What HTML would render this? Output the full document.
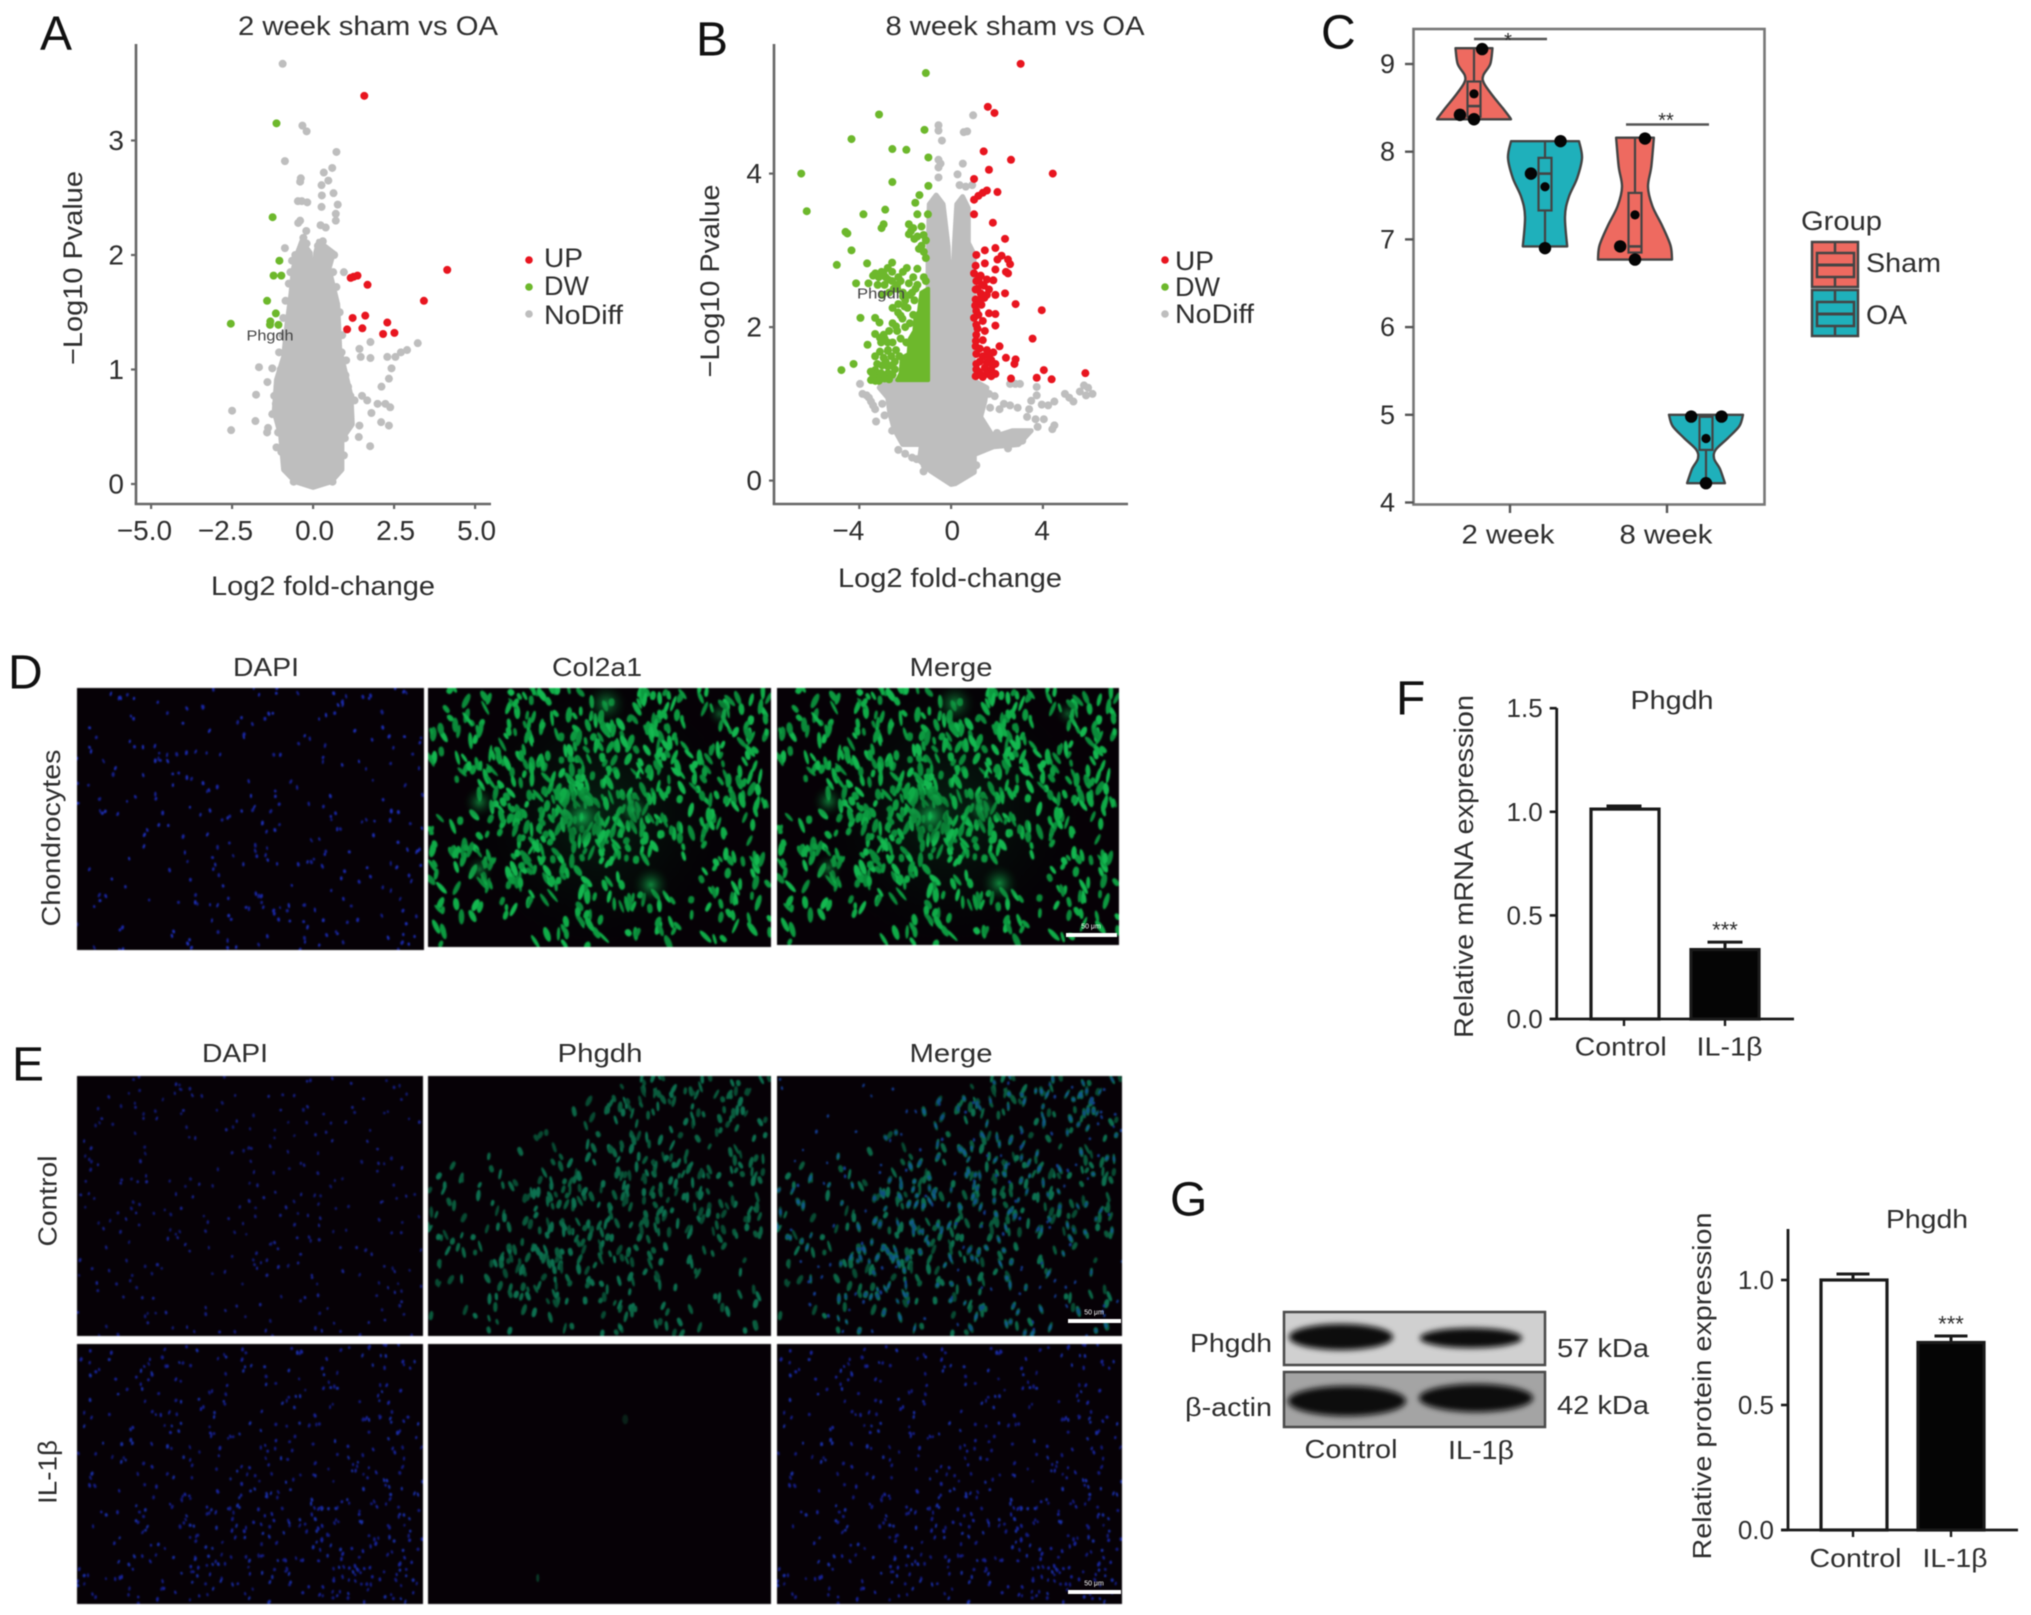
<!DOCTYPE html>
<html>
<head>
<meta charset="utf-8">
<title>Phgdh figure</title>
<style>
html,body{margin:0;padding:0;background:#fff;}
#stage{position:relative;width:2031px;height:1615px;overflow:hidden;background:#fff;}
canvas{position:absolute;filter:blur(0.9px);}
#figure{position:absolute;left:0;top:0;filter:blur(0.45px);}
text{font-family:"Liberation Sans",sans-serif;fill:#2e2e2e;dominant-baseline:central;}
.pl{font-size:48px;fill:#111;}
</style>
</head>
<body>
<div id="stage">
<canvas id="c-d1" width="347" height="262" style="left:77px;top:688px"></canvas>
<canvas id="c-d2" width="343" height="259" style="left:428px;top:688px"></canvas>
<canvas id="c-d3" width="342" height="257" style="left:777px;top:688px"></canvas>
<canvas id="c-e1" width="346" height="260" style="left:77px;top:1076px"></canvas>
<canvas id="c-e2" width="343" height="260" style="left:428px;top:1076px"></canvas>
<canvas id="c-e3" width="345" height="260" style="left:777px;top:1076px"></canvas>
<canvas id="c-e4" width="346" height="260" style="left:77px;top:1344px"></canvas>
<canvas id="c-e5" width="343" height="260" style="left:428px;top:1344px"></canvas>
<canvas id="c-e6" width="345" height="260" style="left:777px;top:1344px"></canvas>

<svg id="figure" xmlns="http://www.w3.org/2000/svg" width="2031" height="1615" viewBox="0 0 2031 1615">
<defs>
<filter id="soft3" x="-20%" y="-40%" width="140%" height="180%"><feGaussianBlur stdDeviation="3"/></filter>
<filter id="soft6" x="-20%" y="-50%" width="140%" height="200%"><feGaussianBlur stdDeviation="6"/></filter>
</defs>

<!-- panel letters -->
<text class="pl" x="40" y="34">A</text>
<text class="pl" x="696" y="40">B</text>
<text class="pl" x="1321" y="33">C</text>
<text class="pl" x="8" y="673">D</text>
<text class="pl" x="12" y="1065">E</text>
<text class="pl" x="1396" y="699">F</text>
<text class="pl" x="1170" y="1200">G</text>

<!-- panel A static -->
<g id="panel-a"></g>
<text x="368" y="26" font-size="27" text-anchor="middle" textLength="260" lengthAdjust="spacingAndGlyphs">2 week sham vs OA</text>
<text x="323" y="586" font-size="27" text-anchor="middle" textLength="224" lengthAdjust="spacingAndGlyphs">Log2 fold-change</text>
<text transform="translate(73,268) rotate(-90)" font-size="27" text-anchor="middle" textLength="194" lengthAdjust="spacingAndGlyphs">−Log10 Pvalue</text>
<text x="270" y="336" font-size="15" text-anchor="middle" textLength="47" lengthAdjust="spacingAndGlyphs" style="fill:#444">Phgdh</text>
<circle cx="529" cy="260" r="3.8" fill="#e8151f"/>
<circle cx="529" cy="287" r="3.8" fill="#6db82c"/>
<circle cx="529" cy="314" r="3.8" fill="#bebebe"/>
<text x="544" y="258" font-size="27" textLength="39" lengthAdjust="spacingAndGlyphs">UP</text>
<text x="544" y="286" font-size="27" textLength="45" lengthAdjust="spacingAndGlyphs">DW</text>
<text x="544" y="315" font-size="27" textLength="79" lengthAdjust="spacingAndGlyphs">NoDiff</text>

<!-- panel B static -->
<g id="panel-b"></g>
<text x="1015" y="26" font-size="27" text-anchor="middle" textLength="259" lengthAdjust="spacingAndGlyphs">8 week sham vs OA</text>
<text x="950" y="578" font-size="27" text-anchor="middle" textLength="224" lengthAdjust="spacingAndGlyphs">Log2 fold-change</text>
<text transform="translate(710,281) rotate(-90)" font-size="27" text-anchor="middle" textLength="193" lengthAdjust="spacingAndGlyphs">−Log10 Pvalue</text>
<text x="881" y="294" font-size="15" text-anchor="middle" textLength="48" lengthAdjust="spacingAndGlyphs" style="fill:#444">Phgdh</text>
<circle cx="1165" cy="260" r="3.8" fill="#e8151f"/>
<circle cx="1165" cy="287" r="3.8" fill="#6db82c"/>
<circle cx="1165" cy="314" r="3.8" fill="#bebebe"/>
<text x="1175" y="261" font-size="27" textLength="39" lengthAdjust="spacingAndGlyphs">UP</text>
<text x="1175" y="287" font-size="27" textLength="45" lengthAdjust="spacingAndGlyphs">DW</text>
<text x="1175" y="314" font-size="27" textLength="79" lengthAdjust="spacingAndGlyphs">NoDiff</text>

<!-- panel C -->
<g id="panel-c"></g>
<text x="1801" y="221" font-size="27" textLength="81" lengthAdjust="spacingAndGlyphs">Group</text>
<g transform="translate(-3,-1)">
<rect x="1815" y="243" width="46" height="45" fill="#ee6a60" stroke="#444" stroke-width="2.5"/>
<line x1="1838" y1="243" x2="1838" y2="288" stroke="#444" stroke-width="2.5"/>
<rect x="1820" y="254" width="37" height="24" fill="#ee6a60" stroke="#444" stroke-width="2.5"/>
<line x1="1820" y1="266" x2="1857" y2="266" stroke="#444" stroke-width="3"/>
</g>
<g transform="translate(-3,-1)">
<rect x="1815" y="291" width="46" height="46" fill="#1fb0bb" stroke="#444" stroke-width="2.5"/>
<line x1="1838" y1="291" x2="1838" y2="337" stroke="#444" stroke-width="2.5"/>
<rect x="1820" y="303" width="37" height="24" fill="#1fb0bb" stroke="#444" stroke-width="2.5"/>
<line x1="1820" y1="315" x2="1857" y2="315" stroke="#444" stroke-width="3"/>
</g>
<text x="1866" y="263" font-size="27" textLength="75" lengthAdjust="spacingAndGlyphs">Sham</text>
<text x="1866" y="315" font-size="27" textLength="41" lengthAdjust="spacingAndGlyphs">OA</text>

<!-- panel D labels -->
<text x="266" y="667" font-size="26" text-anchor="middle" textLength="66" lengthAdjust="spacingAndGlyphs">DAPI</text>
<text x="597" y="667" font-size="26" text-anchor="middle" textLength="90" lengthAdjust="spacingAndGlyphs">Col2a1</text>
<text x="951" y="667" font-size="26" text-anchor="middle" textLength="83" lengthAdjust="spacingAndGlyphs">Merge</text>
<text transform="translate(51,838) rotate(-90)" font-size="26" text-anchor="middle" textLength="177" lengthAdjust="spacingAndGlyphs">Chondrocytes</text>
<rect x="1066" y="933" width="51" height="4" fill="#fff"/>
<text x="1091" y="927" font-size="7" text-anchor="middle" style="fill:#fff">50 μm</text>

<!-- panel E labels -->
<text x="235" y="1053" font-size="26" text-anchor="middle" textLength="66" lengthAdjust="spacingAndGlyphs">DAPI</text>
<text x="600" y="1053" font-size="26" text-anchor="middle" textLength="85" lengthAdjust="spacingAndGlyphs">Phgdh</text>
<text x="951" y="1053" font-size="26" text-anchor="middle" textLength="83" lengthAdjust="spacingAndGlyphs">Merge</text>
<text transform="translate(47.5,1201) rotate(-90)" font-size="26" text-anchor="middle" textLength="91" lengthAdjust="spacingAndGlyphs">Control</text>
<text transform="translate(47.5,1472) rotate(-90)" font-size="26" text-anchor="middle" textLength="64" lengthAdjust="spacingAndGlyphs">IL-1β</text>
<rect x="1068" y="1319" width="53" height="4" fill="#fff"/>
<text x="1094" y="1313" font-size="7" text-anchor="middle" style="fill:#fff">50 μm</text>
<rect x="1068" y="1590" width="53" height="4" fill="#fff"/>
<text x="1094" y="1584" font-size="7" text-anchor="middle" style="fill:#fff">50 μm</text>

<!-- panel F -->
<g id="panel-f"></g>
<text transform="translate(1464,866.5) rotate(-90)" font-size="27" text-anchor="middle" textLength="343" lengthAdjust="spacingAndGlyphs">Relative mRNA expression</text>
<text x="1672" y="700" font-size="26" text-anchor="middle" textLength="83" lengthAdjust="spacingAndGlyphs">Phgdh</text>

<!-- panel G blot -->
<g>
<rect x="1284" y="1312" width="261" height="53" fill="#d0d0d0" stroke="#4a4a4a" stroke-width="2.5"/>
<ellipse cx="1341" cy="1337" rx="52" ry="13" fill="#070707" filter="url(#soft3)"/>
<ellipse cx="1471" cy="1338" rx="51" ry="10" fill="#070707" filter="url(#soft3)"/>
</g>
<g>
<rect x="1284" y="1372" width="261" height="55" fill="#a4a4a4" stroke="#4a4a4a" stroke-width="2.5"/>
<ellipse cx="1347" cy="1401" rx="59" ry="15" fill="#070707" filter="url(#soft3)"/>
<ellipse cx="1476" cy="1398" rx="57" ry="14" fill="#070707" filter="url(#soft3)"/>
</g>
<text x="1272" y="1343" font-size="26" text-anchor="end" textLength="82" lengthAdjust="spacingAndGlyphs">Phgdh</text>
<text x="1272" y="1407" font-size="26" text-anchor="end" textLength="87" lengthAdjust="spacingAndGlyphs">β-actin</text>
<text x="1557" y="1348" font-size="26" textLength="92" lengthAdjust="spacingAndGlyphs">57 kDa</text>
<text x="1557" y="1405" font-size="26" textLength="92" lengthAdjust="spacingAndGlyphs">42 kDa</text>
<text x="1351" y="1449" font-size="26" text-anchor="middle" textLength="93" lengthAdjust="spacingAndGlyphs">Control</text>
<text x="1481" y="1450" font-size="26" text-anchor="middle" textLength="66" lengthAdjust="spacingAndGlyphs">IL-1β</text>

<g id="panel-g"></g>
<text transform="translate(1702,1386) rotate(-90)" font-size="26" text-anchor="middle" textLength="347" lengthAdjust="spacingAndGlyphs">Relative protein expression</text>
<text x="1927" y="1219" font-size="26" text-anchor="middle" textLength="82" lengthAdjust="spacingAndGlyphs">Phgdh</text>
</svg>
</div>

<script>
/* ---------- Panel A data (log2 fold-change, -log10 p) ---------- */
const aXTicks = [-5, -2.5, 0, 2.5, 5];
const aXTickLabels = ['−5.0', '−2.5', '0.0', '2.5', '5.0'];
const aYTicks = [0, 1, 2, 3];
const aUp = [[1.58,3.39],[4.14,1.87],[3.42,1.60],[1.68,1.74],[1.16,1.80],[1.25,1.81],[1.37,1.82],[1.22,1.45],[1.61,1.47],[2.29,1.41],[1.52,1.36],[1.05,1.35],[2.16,1.31],[2.51,1.32]];
const aDown = [[-1.13,3.15],[-1.25,2.33],[-1.04,1.95],[-1.22,1.82],[-0.98,1.82],[-1.42,1.60],[-1.15,1.49],[-1.32,1.42],[-2.54,1.40],[-1.33,1.39],[-1.07,1.39]];
const aNoDiff = [[-0.94,3.67],[-0.33,3.13],[-0.2,3.08],[0.72,2.90],[-0.87,2.82],[0.59,2.76],[0.33,2.72],[0.47,2.65],[-0.38,2.67],[-0.40,2.64],[0.26,2.61],[0.63,2.54],[0.27,2.52],[-0.47,2.47],[-0.35,2.47],[-0.18,2.46],[0.76,2.44],[0.26,2.42],[0.70,2.36],[-0.40,2.30],[0.70,2.30],[-0.46,2.28],[0.23,2.26],[0.39,2.24],[-0.21,2.21],[-0.87,2.06],[0.95,1.85],[1.77,1.24],[1.43,1.18],[3.23,1.23],[2.9,1.17],[2.71,1.15],[2.54,1.11],[2.29,1.11],[1.77,1.10],[1.47,1.11],[1.02,1.08],[-1.67,1.02],[-1.26,1.01],[2.42,1.01],[2.34,0.92],[2.11,0.85],[-1.41,0.89],[-1.76,0.78],[-1.2,0.77],[1.15,0.77],[1.51,0.77],[1.28,0.73],[1.67,0.73],[1.99,0.70],[2.23,0.70],[2.38,0.67],[-2.5,0.64],[1.8,0.62],[-1.78,0.55],[-1.26,0.61],[2.10,0.54],[2.34,0.51],[1.43,0.51],[-2.53,0.47],[-1.39,0.49],[-1.42,0.45],[1.41,0.41],[1.76,0.33],[-1.13,0.32],[-0.55,2.0],[0.45,2.02],[0.65,2.0],[-0.7,1.85],[-0.85,1.6],[-0.95,1.3],[0.9,1.3],[1.0,0.95],[-1.05,1.15],[1.1,0.6],[-1.15,0.7],[-0.75,1.75],[-0.65,1.95],[0.62,1.85],[0.72,1.72],[0.82,1.5],[0.88,1.15],[-0.92,1.45],[-1.0,1.0],[-1.1,0.85],[-1.08,0.45],[1.02,0.48],[1.08,0.85],[0.98,0.4],[-0.98,0.28],[0.95,0.25],[-0.3,2.15],[0.3,2.12],[-0.2,2.1],[0.15,2.08],[0.6,0.02],[-0.6,0.02]];
const aMassOutline = [[0,-0.03],[-0.55,0.02],[-0.91,0.125],[-1.0,0.42],[-1.2,0.63],[-1.13,0.91],[-0.91,1.11],[-0.81,1.39],[-0.68,1.67],[-0.61,1.88],[-0.48,2.02],[-0.35,2.12],[-0.09,2.02],[0,1.53],[0.08,2.02],[0.17,2.12],[0.63,2.02],[0.49,1.88],[0.76,1.57],[0.82,1.18],[1.17,0.77],[1.21,0.52],[0.89,0.39],[0.89,0.125],[0.56,0.02]];

/* ---------- Panel B data ---------- */
const bXTicks = [-4, 0, 4];
const bXTickLabels = ['−4', '0', '4'];
const bYTicks = [0, 2, 4];
const bUp = [[3.03,5.43],[1.6,4.87],[1.89,4.79],[1.42,4.29],[2.61,4.18],[1.65,4.05],[4.43,4.0],[1.0,3.93],[2.02,3.76],[1.56,3.78],[1.38,3.75],[1.19,3.71],[1.0,3.66],[1.0,3.47],[1.82,3.36],[2.35,3.15],[1.93,3.03],[1.47,3.0],[1.1,2.94],[2.2,2.93],[2.48,2.88],[2.02,2.88],[2.57,2.82],[1.47,2.83],[1.07,2.8],[1.93,2.75],[2.39,2.72],[2.48,2.70],[1.0,2.7],[1.29,2.67],[1.56,2.62],[1.84,2.61],[1.1,2.6],[1.43,2.54],[1.65,2.49],[1.07,2.49],[1.29,2.44],[2.35,2.44],[1.93,2.42],[1.56,2.42],[1.07,2.36],[2.81,2.30],[1.32,2.29],[3.95,2.22],[1.1,2.21],[1.65,2.18],[1.93,2.17],[1.19,2.16],[1.0,2.12],[1.38,2.08],[1.93,2.02],[1.1,2.03],[1.47,1.95],[1.1,1.9],[3.55,1.85],[1.38,1.83],[2.11,1.75],[1.07,1.75],[1.56,1.70],[1.84,1.67],[1.1,1.65],[1.38,1.62],[2.39,1.6],[1.75,1.57],[2.81,1.58],[1.56,1.54],[1.93,1.52],[2.76,1.52],[1.1,1.52],[1.47,1.47],[1.75,1.44],[1.19,1.42],[4.04,1.44],[5.85,1.40],[1.93,1.39],[1.56,1.39],[1.07,1.36],[3.73,1.34],[2.61,1.33],[4.38,1.32],[1.38,1.35],[1.75,1.36],[1.2,2.62],[1.35,2.55],[1.15,2.5],[1.25,2.35],[1.45,2.38],[1.05,2.28],[1.15,1.98],[1.08,1.82],[1.25,1.72],[1.1,1.45],[1.25,1.55],[1.65,1.62],[1.8,1.5],[1.3,1.38]];
const bDown = [[-1.10,5.31],[-3.14,4.77],[-1.16,4.57],[-4.34,4.45],[-2.56,4.32],[-1.95,4.31],[-0.99,4.21],[-6.53,4.0],[-2.56,3.89],[-0.99,3.84],[-1.38,3.72],[-1.56,3.62],[-6.29,3.51],[-2.87,3.53],[-3.82,3.47],[-1.47,3.47],[-1.01,3.47],[-2.94,3.34],[-3.03,3.29],[-4.6,3.24],[-4.52,3.22],[-1.84,3.34],[-1.65,3.29],[-1.29,3.31],[-1.84,3.21],[-1.47,3.18],[-1.1,3.13],[-1.29,3.06],[-4.34,3.0],[-1.19,2.98],[-1.1,2.9],[-1.75,3.25],[-1.6,3.15],[-1.4,3.02],[-1.2,3.2],[-4.98,2.81],[-3.66,2.83],[-2.57,2.84],[-2.76,2.77],[-1.93,2.77],[-1.47,2.76],[-3.03,2.72],[-2.57,2.72],[-3.4,2.67],[-2.3,2.65],[-2.85,2.65],[-1.65,2.65],[-1.19,2.65],[-4.14,2.57],[-3.6,2.57],[-2.57,2.6],[-1.84,2.57],[-1.47,2.55],[-1.1,2.6],[-3.2,2.55],[-2.9,2.55],[-2.35,2.5],[-2.1,2.45],[-3.95,2.12],[-3.31,2.12],[-3.12,2.06],[-3.31,1.91],[-2.94,1.9],[-3.64,1.77],[-2.76,1.8],[-2.4,2.01],[-2.31,2.19],[-2.03,2.27],[-2.12,2.11],[-1.65,2.16],[-2.0,2.35],[-1.8,2.42],[-1.6,2.35],[-4.78,1.44],[-4.25,1.52],[-3.31,1.62],[-3.22,1.52],[-2.94,1.6],[-2.76,1.69],[-3.31,1.44],[-3.49,1.31],[-3.22,1.36],[-2.76,1.49],[-3.1,1.86],[-2.55,2.05],[-3.05,1.4],[-3.3,1.3],[-2.1,2.4],[-2.3,2.3],[-2.55,2.25],[-1.9,2.25],[-2.2,2.15],[-1.8,2.05],[-2.0,2.0],[-2.35,1.95],[-2.7,1.95],[-2.9,1.85],[-3.05,1.8],[-2.2,1.85],[-1.95,1.8],[-2.55,1.8],[-2.75,1.7],[-3.1,1.68],[-2.4,1.7],[-2.6,1.62],[-2.25,1.62],[-2.85,1.55],[-3.0,1.5],[-2.6,1.5],[-2.45,1.55],[-2.75,1.4],[-2.55,1.38],[-2.9,1.33],[-2.7,1.32],[-3.15,1.3],[-3.4,1.38],[-3.5,1.42],[-2.45,1.45],[-2.35,2.55],[-2.7,2.45],[-3.0,2.42],[-3.3,2.7],[-3.15,2.65],[-2.95,2.7],[-2.75,2.62],[-2.5,2.5],[-2.2,2.6],[-2.1,2.72],[-1.7,2.45],[-1.55,2.5]];
const bDownMass = [[-1.0,2.5],[-1.3,2.45],[-1.4,2.2],[-1.55,2.15],[-1.6,1.95],[-1.8,1.85],[-1.85,1.65],[-2.15,1.6],[-2.2,1.4],[-2.35,1.31],[-1.0,1.31]];
const bNoDiff = [[-0.55,4.63],[-0.55,4.56],[-0.4,4.43],[0.96,4.76],[0.55,4.54],[0.7,4.55],[-0.55,4.18],[-0.46,4.13],[-0.55,4.08],[-0.55,3.95],[0.51,4.13],[0.28,3.99],[0.37,3.85],[0.64,3.83],[0.92,3.85],[-3.97,1.26],[-3.68,1.11],[-3.49,1.03],[-3.31,0.93],[-3.27,0.77],[-3.58,1.08],[-3.4,0.98],[-3.86,1.13],[-2.57,0.65],[-2.21,0.77],[-2.02,0.49],[5.79,1.24],[5.97,1.21],[5.61,1.16],[6.16,1.13],[5.88,1.11],[4.96,1.13],[5.15,1.08],[5.33,1.03],[4.5,1.03],[4.23,0.98],[3.95,0.99],[3.49,1.04],[3.73,1.11],[3.4,0.93],[3.31,0.83],[3.68,0.8],[4.04,0.8],[4.5,0.72],[4.41,0.67],[3.77,0.7],[3.13,0.62],[2.57,0.98],[2.11,0.93],[2.3,1.0],[2.57,1.26],[2.8,1.26],[1.65,1.13],[2.48,0.42],[0.92,0.24],[3.73,1.22],[3.0,1.26],[2.9,0.95],[2.4,0.6],[2.2,0.55],[-1.7,0.3],[-1.5,0.28],[-2.3,0.4],[-2.0,0.35],[-1.15,0.2],[-1.2,0.12],[1.1,0.2],[-3.0,1.0],[-2.9,0.85],[1.7,0.95],[1.9,1.1],[2.0,0.62],[3.1,0.52],[2.8,0.52]];
const bMassOutline = [[0,-0.05],[-0.92,0.13],[-1.38,0.26],[-1.29,0.47],[-2.11,0.47],[-2.48,0.67],[-2.67,0.88],[-2.76,1.08],[-3.13,1.21],[-2.94,1.31],[-1.0,1.31],[-1.0,2.9],[-0.95,3.6],[-0.65,3.72],[-0.35,3.6],[-0.13,3.05],[-0.05,2.5],[-0.02,2.0],[0,1.8],[0.03,2.0],[0.08,2.6],[0.15,3.1],[0.25,3.6],[0.5,3.7],[0.75,3.55],[0.75,3.1],[1.0,2.95],[0.96,1.31],[1.56,1.21],[1.47,1.03],[1.29,0.83],[1.84,0.57],[2.67,0.65],[3.49,0.65],[2.94,0.47],[1.84,0.44],[1.01,0.34],[1.01,0.11],[0.18,-0.04]];

/* ---------- Panel C data ---------- */
const cYTicks = [4, 5, 6, 7, 8, 9];
const cCategories = ['2 week', '8 week'];
const cGroups = ['Sham', 'OA', 'Sham', 'OA'];
const cViolinLevels = [
  [9.18,9.0,8.87,8.78,8.63,8.5,8.39,8.37],
  [8.12,7.93,7.7,7.48,7.26,6.92],
  [8.16,7.83,7.6,7.38,7.15,6.93,6.77],
  [5.0,4.87,4.73,4.6,4.5,4.38,4.22]
];
const cViolinDensity = [
  [0.5,0.44,0.25,0.27,0.52,0.77,0.97,1],
  [0.92,1,0.87,0.64,0.54,0.6],
  [0.51,0.44,0.35,0.47,0.74,0.96,1],
  [1,0.9,0.58,0.26,0.22,0.38,0.51]
];
const cBoxLow = [8.40, 7.33, 6.85, 4.60];
const cBoxHigh = [8.80, 7.93, 7.53, 4.98];
const cBoxMedian = [8.52, 7.75, 6.92, 4.98];
const cPointValues = [
  [8.42, 8.37, 8.66, 9.17],
  [7.75, 7.60, 6.90, 8.12],
  [6.92, 6.77, 7.28, 8.15],
  [4.98, 4.98, 4.73, 4.22]
];
const cPointOffsets = [
  [-0.38, 0, 0, 0.22],
  [-0.38, 0, 0, 0.42],
  [-0.40, 0, 0, 0.27],
  [-0.40, 0.42, 0, 0]
];
const cPointBig = [
  [true, true, false, true],
  [true, false, true, true],
  [true, true, false, true],
  [true, true, false, true]
];

/* ---------- Panels F and G data ---------- */
const fCategories = ['Control', 'IL-1β'];
const fValues = [1.013, 0.335];
const fErrors = [0.015, 0.036];
const fTicks = ['0.0', '0.5', '1.0', '1.5'];
const gCategories = ['Control', 'IL-1β'];
const gValues = [1.0, 0.75];
const gErrors = [0.024, 0.026];
const gTicks = ['0.0', '0.5', '1.0'];

/* ---------- helpers ---------- */
const NS = 'http://www.w3.org/2000/svg';
function mk(parent, tag, attrs) {
  const el = document.createElementNS(NS, tag);
  for (const k in attrs) el.setAttribute(k, attrs[k]);
  parent.appendChild(el);
  return el;
}
function txt(parent, str, x, y, size, anchor, len) {
  const el = mk(parent, 'text', {x: x, y: y, 'font-size': size, 'text-anchor': anchor});
  if (len) { el.setAttribute('textLength', len); el.setAttribute('lengthAdjust', 'spacingAndGlyphs'); }
  el.textContent = str;
  return el;
}
function line(parent, x1, y1, x2, y2, color, w) {
  return mk(parent, 'line', {x1: x1, y1: y1, x2: x2, y2: y2, stroke: color, 'stroke-width': w});
}
function smoothSegs(pts) {
  let d = '';
  for (let i = 0; i < pts.length - 1; i++) {
    const p0 = pts[Math.max(0, i - 1)], p1 = pts[i], p2 = pts[i + 1], p3 = pts[Math.min(pts.length - 1, i + 2)];
    const c1x = p1[0] + (p2[0] - p0[0]) / 6, c1y = p1[1] + (p2[1] - p0[1]) / 6;
    const c2x = p2[0] - (p3[0] - p1[0]) / 6, c2y = p2[1] - (p3[1] - p1[1]) / 6;
    d += ' C' + c1x.toFixed(1) + ' ' + c1y.toFixed(1) + ' ' + c2x.toFixed(1) + ' ' + c2y.toFixed(1) + ' ' + p2[0].toFixed(1) + ' ' + p2[1].toFixed(1);
  }
  return d;
}

/* ---------- volcano ---------- */
function volcano(id, sx, sy, left, right, spec) {
  const g = document.getElementById(id);
  const R = 4;
  const bottom = 504;
  const outline = spec.mass.map(p => sx(p[0]).toFixed(1) + ',' + sy(p[1]).toFixed(1)).join(' ');
  const massEl = mk(g, 'polygon', {points: outline, fill: '#bebebe', stroke: '#bebebe', 'stroke-width': 5, 'stroke-linejoin': 'round'});
  
  
  spec.noDiff.forEach(p => {
    const c = mk(g, 'circle', {cx: sx(p[0]), cy: sy(p[1]), r: R, fill: '#bebebe'});
    
    
  });
  if (spec.downMass) {
    const pts = spec.downMass.map(p => sx(p[0]).toFixed(1) + ',' + sy(p[1]).toFixed(1)).join(' ');
    const dm = mk(g, 'polygon', {points: pts, fill: '#6db82c', stroke: '#6db82c', 'stroke-width': 4, 'stroke-linejoin': 'round'});
    
    
  }
  spec.down.forEach(p => {
    const c = mk(g, 'circle', {cx: sx(p[0]), cy: sy(p[1]), r: R, fill: '#6db82c'});
    
    
  });
  spec.up.forEach(p => {
    const c = mk(g, 'circle', {cx: sx(p[0]), cy: sy(p[1]), r: R, fill: '#e8151f'});
    
    
  });
  const ax = mk(g, 'g', {});
  
  
  line(ax, left, 44, left, bottom, '#666', 2.6);
  line(ax, left - 1.3, bottom, right, bottom, '#666', 2.6);
  spec.xTicks.forEach((t, i) => {
    line(ax, sx(t), bottom, sx(t), bottom + 5, '#666', 2.2);
    const l = txt(ax, spec.xLabels[i], sx(t) + spec.xLabelShift[i], 530.5, 28, 'end');
    
    
  });
  spec.yTicks.forEach(t => {
    line(ax, left - 5, sy(t), left, sy(t), '#666', 2.2);
    const l = txt(ax, String(t), spec.yLabelX, sy(t), 28, 'end');
    
    
  });
}
volcano('panel-a', v => 313.1 + 32.4 * v, v => 484 - 114.5 * v, 136, 491, {
  mass: aMassOutline, noDiff: aNoDiff, up: aUp, down: aDown,
  xTicks: aXTicks, xLabels: aXTickLabels, xLabelShift: [21, 21, 21, 21, 21], yTicks: aYTicks, yLabelX: 124
});
volcano('panel-b', v => 951.1 + 22.95 * v, v => 480.6 - 76.75 * v, 774, 1128, {
  mass: bMassOutline, noDiff: bNoDiff, up: bUp, down: bDown, downMass: bDownMass,
  xTicks: bXTicks, xLabels: bXTickLabels, xLabelShift: [5, 9, 7], yTicks: bYTicks, yLabelX: 762
});

/* ---------- violin ---------- */
(function () {
  const g = document.getElementById('panel-c');
  const sy = v => 502.5 - 87.7 * (v - 4);
  const HALF = 37;
  const frame = mk(g, 'rect', {x: 1413.5, y: 29, width: 351, height: 475.5, fill: '#fff', stroke: '#777', 'stroke-width': 2.6});
  
  
  cYTicks.forEach(t => {
    line(g, 1405, sy(t), 1413.5, sy(t), '#555', 2.4);
    const l = txt(g, String(t), 1395, sy(t), 27, 'end');
    
    
  });
  const tickPos = [1510, 1667];
  const labelPos = [1508, 1666];
  cCategories.forEach((c, i) => {
    line(g, tickPos[i], 504.5, tickPos[i], 513, '#555', 2.4);
    const l = txt(g, c, labelPos[i], 534.5, 27, 'middle', 93);
    
    
  });
  const centers = [1474, 1545, 1635, 1706];
  cViolinLevels.forEach((levels, i) => {
    const cx = centers[i];
    const dens = cViolinDensity[i];
    const fill = cGroups[i] === 'Sham' ? '#ee6a60' : '#1fb0bb';
    const rightSide = levels.map((v, k) => [cx + dens[k] * HALF, sy(v)]);
    const leftSide = levels.map((v, k) => [cx - dens[k] * HALF, sy(v)]).reverse();
    const d = 'M' + rightSide[0][0].toFixed(1) + ' ' + rightSide[0][1].toFixed(1) + smoothSegs(rightSide) +
      ' L' + leftSide[0][0].toFixed(1) + ' ' + leftSide[0][1].toFixed(1) + smoothSegs(leftSide) + ' Z';
    const violin = mk(g, 'path', {d: d, fill: fill, stroke: '#444', 'stroke-width': 2.4, 'stroke-linejoin': 'round'});
    
    
    line(g, cx, sy(levels[0]), cx, sy(levels[levels.length - 1]), '#444', 2.2);
    const box = mk(g, 'rect', {x: cx - 6.5, y: sy(cBoxHigh[i]), width: 13, height: sy(cBoxLow[i]) - sy(cBoxHigh[i]), fill: fill, stroke: '#444', 'stroke-width': 2.2});
    
    
    line(g, cx - 6.5, sy(cBoxMedian[i]), cx + 6.5, sy(cBoxMedian[i]), '#444', 2.6);
    cPointValues[i].forEach((v, k) => {
      const pt = mk(g, 'circle', {cx: cx + cPointOffsets[i][k] * HALF, cy: sy(v), r: cPointBig[i][k] ? 6.2 : 4.6, fill: '#050505'});
      
      
    });
  });
  line(g, 1474, 39, 1547, 39, '#555', 2.4);
  const s1 = txt(g, '*', 1508, 41, 20, 'middle');
  
  
  line(g, 1626, 124.5, 1709, 124.5, '#555', 2.4);
  const s2 = txt(g, '**', 1666, 121, 20, 'middle');
  
  
})();

/* ---------- bars ---------- */
function bars(id, cfg) {
  const g = document.getElementById(id);
  const sy = v => cfg.y0 - cfg.unit * v;
  cfg.values.forEach((v, i) => {
    const x = cfg.barX[i], w = cfg.barW;
    const cx = cfg.tickX[i];
    line(g, cx, sy(v), cx, sy(v + cfg.errors[i]), '#1a1a1a', 3);
    line(g, cx - cfg.capW / 2, sy(v + cfg.errors[i]), cx + cfg.capW / 2, sy(v + cfg.errors[i]), '#1a1a1a', 3);
    const b = mk(g, 'rect', {x: x, y: sy(v), width: w, height: cfg.y0 - sy(v), fill: i === 0 ? '#fff' : '#050505', stroke: '#1a1a1a', 'stroke-width': 3.2});
    
    
    line(g, cx, cfg.y0, cx, cfg.y0 + 7, '#1a1a1a', 2.4);
    const l = txt(g, cfg.categories[i], cfg.labelX[i], cfg.labelY, 26, 'middle', cfg.labelW[i]);
    
    
  });
  line(g, cfg.axisX, cfg.top, cfg.axisX, cfg.y0, '#1a1a1a', 2.8);
  line(g, cfg.axisX - 7, cfg.y0, cfg.right, cfg.y0, '#1a1a1a', 2.8);
  cfg.ticks.forEach(t => {
    const v = parseFloat(t);
    line(g, cfg.axisX - 7, sy(v), cfg.axisX, sy(v), '#1a1a1a', 2.6);
    const l = txt(g, t, cfg.axisX - 14, sy(v), 26, 'end');
    
    
  });
  const st = txt(g, '***', cfg.tickX[1], sy(cfg.values[1] + cfg.errors[1]) - cfg.starGap, 22, 'middle');
  
  
}
bars('panel-f', {y0: 1019, unit: 207.2, top: 708, axisX: 1556.7, right: 1794, values: fValues, errors: fErrors,
  categories: fCategories, ticks: fTicks, barX: [1591, 1691], barW: 68, tickX: [1624, 1725], capW: 35,
  labelX: [1620.7, 1729.5], labelY: 1046.7, labelW: [92, 66], starGap: 12});
bars('panel-g', {y0: 1530, unit: 250, top: 1229, axisX: 1788, right: 2018, values: gValues, errors: gErrors,
  categories: gCategories, ticks: gTicks, barX: [1821, 1918], barW: 66, tickX: [1853, 1951], capW: 33,
  labelX: [1855.5, 1955], labelY: 1558, labelW: [92, 65], starGap: 12});

/* ---------- micrograph textures (not chart data; seeded speckle) ---------- */
function rng(seed) {
  let s = seed >>> 0;
  return function () { s = (s * 1664525 + 1013904223) >>> 0; return s / 4294967296; };
}
function dens(hot, base, u, v) {
  let d = base;
  hot.forEach(h => {
    const du = (u - h[0]) / h[2], dv = (v - h[1]) / h[2];
    d += h[3] * Math.exp(-(du * du + dv * dv));
  });
  return d;
}
function bg(ctx, w, h) { ctx.fillStyle = '#060106'; ctx.fillRect(0, 0, w, h); }
function glows(ctx, w, h, list) {
  list.forEach(g => {
    const r = g[2] * w, x = g[0] * w, y = g[1] * h;
    const gr = ctx.createRadialGradient(x, y, 0, x, y, r);
    gr.addColorStop(0, g[3]);
    gr.addColorStop(1, 'rgba(0,0,0,0)');
    ctx.fillStyle = gr;
    ctx.fillRect(0, 0, w, h);
  });
}
function cells(ctx, w, h, o) {
  const r = rng(o.seed);
  let placed = 0, tries = 0;
  while (placed < o.n && tries < o.n * 40) {
    tries++;
    const u = r(), v = r(), p = r();
    const len = o.len[0] + r() * (o.len[1] - o.len[0]);
    const wid = o.wid[0] + r() * (o.wid[1] - o.wid[0]);
    const ang = (r() - 0.5) * o.spread + (o.tilt || 0);
    const ci = Math.floor(r() * o.colors.length);
    if (p > dens(o.hot, o.base, u, v)) continue;
    ctx.fillStyle = o.colors[ci];
    ctx.beginPath();
    ctx.ellipse(u * w, v * h, wid, len, ang, 0, Math.PI * 2);
    ctx.fill();
    placed++;
  }
}
function ctxOf(id) {
  const c = document.getElementById(id);
  const ctx = c.getContext('2d');
  bg(ctx, c.width, c.height);
  return [ctx, c.width, c.height];
}
const greenHot = [[0.5,0.45,0.32,0.7],[0.7,0.68,0.1,-0.7],[0.05,0.42,0.1,-0.5],[0.2,0.97,0.13,-0.5],[0.6,1.0,0.1,-0.3],[0.02,0.1,0.07,-0.2]];
const greenUnder = [[0.5,0.48,0.45,'rgba(6,70,32,0.45)']];
const greenSpots = [[0.45,0.5,0.075,'rgba(20,190,85,0.9)'],[0.6,0.47,0.055,'rgba(20,180,80,0.75)'],[0.15,0.44,0.05,'rgba(20,170,75,0.7)'],[0.65,0.76,0.06,'rgba(20,180,80,0.75)'],[0.52,0.06,0.065,'rgba(20,170,75,0.7)'],[0.15,0.7,0.045,'rgba(20,170,75,0.6)'],[0.85,0.1,0.04,'rgba(20,170,75,0.5)']];
const greenOpts = {seed: 77, n: 720, base: 0.3, hot: greenHot, len: [3.5, 8.5], wid: [1.6, 3.3], spread: 1.3, tilt: -0.15, colors: ['#0d9a40', '#10ac48', '#14b850', '#0b8a3a']};

(function () { let t = ctxOf('c-d1'); cells(t[0], t[1], t[2], {seed: 11, n: 290, base: 0.8, hot: [], len: [1.4, 2.6], wid: [1, 1.6], spread: 1, colors: ['#1a28a8', '#1e30b8', '#16208c']}); })();
(function () { let t = ctxOf('c-d2'); glows(t[0], t[1], t[2], greenUnder); cells(t[0], t[1], t[2], greenOpts); glows(t[0], t[1], t[2], greenSpots); })();
(function () { let t = ctxOf('c-d3'); glows(t[0], t[1], t[2], greenUnder); cells(t[0], t[1], t[2], greenOpts); glows(t[0], t[1], t[2], greenSpots); })();

const dimHot = [[0.78,0.2,0.32,0.6],[0.55,0.6,0.3,0.6],[0.3,0.62,0.25,0.4],[0.15,0.12,0.22,-0.4],[0.38,0.1,0.12,-0.3],[0.8,0.78,0.12,-0.3]];
const dimOpts = {seed: 201, n: 520, base: 0.24, hot: dimHot, len: [3, 6], wid: [1.4, 2.6], spread: 1, colors: ['#0a5a3c', '#0c6646', '#084a32', '#0d7050']};
const ctlDapi = {seed: 31, n: 300, base: 0.8, hot: [], len: [1.3, 2.2], wid: [1, 1.5], spread: 1, colors: ['#161f80', '#1a2694', '#121a70']};
const ilDapi = {seed: 53, n: 560, base: 0.45, hot: [[0.85,0.8,0.35,0.5],[0.3,0.7,0.3,0.2]], len: [1.4, 2.4], wid: [1, 1.6], spread: 1, colors: ['#141c80', '#18249a', '#1a30a8']};

(function () { let t = ctxOf('c-e1'); cells(t[0], t[1], t[2], ctlDapi); })();
(function () { let t = ctxOf('c-e2'); cells(t[0], t[1], t[2], dimOpts); })();
(function () { let t = ctxOf('c-e3'); cells(t[0], t[1], t[2], dimOpts);
  cells(t[0], t[1], t[2], {seed: 201, n: 240, base: 0.24, hot: dimHot, len: [1.8, 3.4], wid: [1.2, 2], spread: 1, colors: ['#125c8c', '#0f5080']});
  cells(t[0], t[1], t[2], {seed: 97, n: 120, base: 0.6, hot: [], len: [1.3, 2.2], wid: [1, 1.5], spread: 1, colors: ['#143c90']}); })();
(function () { let t = ctxOf('c-e4'); cells(t[0], t[1], t[2], ilDapi); })();
(function () { let t = ctxOf('c-e5');
  t[0].fillStyle = '#0a3a28';
  t[0].beginPath(); t[0].ellipse(0.32 * t[1], 0.9 * t[2], 1.5, 4, 0, 0, 7); t[0].fill();
  t[0].fillStyle = '#0a2018';
  t[0].beginPath(); t[0].ellipse(0.575 * t[1], 0.29 * t[2], 3, 5, 0, 0, 7); t[0].fill(); })();
(function () { let t = ctxOf('c-e6'); cells(t[0], t[1], t[2], ilDapi); })();
</script>
</body>
</html>
